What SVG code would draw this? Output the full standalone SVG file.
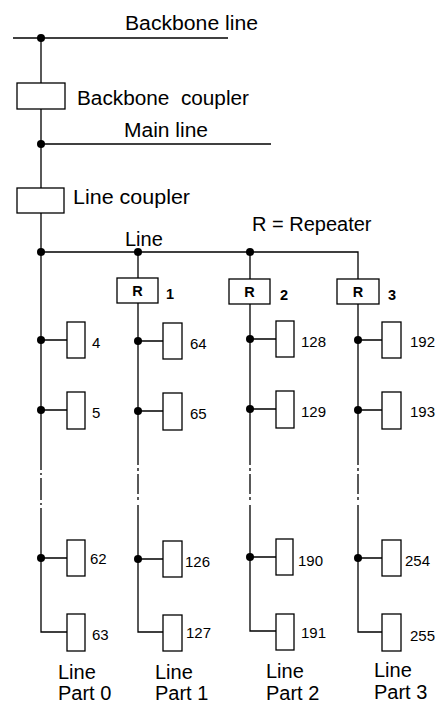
<svg xmlns="http://www.w3.org/2000/svg" width="437" height="704" viewBox="0 0 437 704">
<style>
.ln{fill:none;stroke:#000;stroke-width:1.3}
.bx{fill:#fff;stroke:#000;stroke-width:1.3}
.dt{fill:#000}
.lb{font-family:"Liberation Sans",Arial,sans-serif;font-size:20px;fill:#000}
.nm{font-family:"Liberation Sans",Arial,sans-serif;font-size:15px;fill:#000}
.rb{font-family:"Liberation Sans",Arial,sans-serif;font-size:14.5px;font-weight:bold;fill:#000}
</style>
<g id="connectors">
<path class="ln" d="M13 38H228"/>
<path class="ln" d="M41 144H271"/>
<path class="ln" d="M41 38V83M41 109V188M41 213V470M41 508V632H67"/>
<path class="ln" d="M41 470V508" stroke-dasharray="0 3 2 3 22 3 2 3"/>
<path class="ln" d="M41 252H358V279"/>
<path class="ln" d="M138 252V278M138 303V465M138 505V632H163"/>
<path class="ln" d="M138 465V505" stroke-dasharray="0 3 3 3 20 3 3 3"/>
<path class="ln" d="M250 252V279M250 304V465M250 505V631H276"/>
<path class="ln" d="M250 465V505" stroke-dasharray="0 3 3 3 20 3 3 3"/>
<path class="ln" d="M358 304V465M358 505V632H382"/>
<path class="ln" d="M358 465V505" stroke-dasharray="0 3 3 3 20 3 3 3"/>
<path class="ln" d="M41 340H67M41 410H67M41 558H67"/>
<path class="ln" d="M138 341H163M138 411H163M138 559H163"/>
<path class="ln" d="M250 339H276M250 409H276M250 557H276"/>
<path class="ln" d="M358 340H382M358 410H382M358 558H382"/>
<circle class="dt" cx="41" cy="38" r="4"/>
<circle class="dt" cx="41" cy="144" r="4"/>
<circle class="dt" cx="41" cy="252" r="4"/>
<circle class="dt" cx="138" cy="252" r="4"/>
<circle class="dt" cx="250" cy="252" r="4"/>
<circle class="dt" cx="41" cy="340" r="4"/>
<circle class="dt" cx="41" cy="410" r="4"/>
<circle class="dt" cx="41" cy="558" r="4"/>
<circle class="dt" cx="138" cy="341" r="4"/>
<circle class="dt" cx="138" cy="411" r="4"/>
<circle class="dt" cx="138" cy="559" r="4"/>
<circle class="dt" cx="250" cy="339" r="4"/>
<circle class="dt" cx="250" cy="409" r="4"/>
<circle class="dt" cx="250" cy="557" r="4"/>
<circle class="dt" cx="358" cy="340" r="4"/>
<circle class="dt" cx="358" cy="410" r="4"/>
<circle class="dt" cx="358" cy="558" r="4"/>
</g>
<g id="labels">
<text class="lb" x="125" y="30" textLength="133" lengthAdjust="spacingAndGlyphs">Backbone line</text>
<text class="lb" x="124" y="137" textLength="84" lengthAdjust="spacingAndGlyphs">Main line</text>
<text class="lb" x="252" y="231">R = Repeater</text>
<text class="lb" x="125" y="246">Line</text>
</g>
<g id="backbone-coupler">
<rect class="bx" x="17" y="83" width="48" height="26"/>
<text class="lb" x="77" y="105" xml:space="preserve" textLength="172" lengthAdjust="spacingAndGlyphs">Backbone  coupler</text>
</g>
<g id="line-coupler">
<rect class="bx" x="17" y="188" width="47" height="25"/>
<text class="lb" x="73" y="204" textLength="117" lengthAdjust="spacingAndGlyphs">Line coupler</text>
</g>
<g id="repeater-1">
<rect class="bx" x="117" y="278" width="41" height="25"/>
<text class="rb" x="137.5" y="296" text-anchor="middle">R</text>
<text class="rb" x="166" y="299">1</text>
</g>
<g id="repeater-2">
<rect class="bx" x="229" y="279" width="41" height="25"/>
<text class="rb" x="249.5" y="297" text-anchor="middle">R</text>
<text class="rb" x="280" y="300">2</text>
</g>
<g id="repeater-3">
<rect class="bx" x="337" y="279" width="42" height="25"/>
<text class="rb" x="358" y="297" text-anchor="middle">R</text>
<text class="rb" x="388" y="300">3</text>
</g>
<g id="dev-4"><rect class="bx" x="67" y="322" width="18" height="36"/><text class="nm" x="92" y="348">4</text></g>
<g id="dev-5"><rect class="bx" x="67" y="392" width="18" height="37"/><text class="nm" x="92" y="418">5</text></g>
<g id="dev-62"><rect class="bx" x="67" y="540" width="18" height="36"/><text class="nm" x="90" y="564">62</text></g>
<g id="dev-63"><rect class="bx" x="67" y="614" width="18" height="37"/><text class="nm" x="92" y="640">63</text></g>
<g id="dev-64"><rect class="bx" x="163" y="323" width="19" height="36"/><text class="nm" x="190" y="349">64</text></g>
<g id="dev-65"><rect class="bx" x="163" y="393" width="19" height="37"/><text class="nm" x="190" y="419">65</text></g>
<g id="dev-126"><rect class="bx" x="163" y="541" width="19" height="36"/><text class="nm" x="185" y="567">126</text></g>
<g id="dev-127"><rect class="bx" x="163" y="615" width="19" height="36"/><text class="nm" x="186" y="638">127</text></g>
<g id="dev-128"><rect class="bx" x="276" y="321" width="18" height="36"/><text class="nm" x="301" y="347">128</text></g>
<g id="dev-129"><rect class="bx" x="276" y="391" width="18" height="37"/><text class="nm" x="301" y="417">129</text></g>
<g id="dev-190"><rect class="bx" x="276" y="539" width="17" height="36"/><text class="nm" x="298" y="566">190</text></g>
<g id="dev-191"><rect class="bx" x="276" y="614" width="18" height="36"/><text class="nm" x="301" y="638">191</text></g>
<g id="dev-192"><rect class="bx" x="382" y="322" width="19" height="36"/><text class="nm" x="410" y="347">192</text></g>
<g id="dev-193"><rect class="bx" x="382" y="392" width="19" height="37"/><text class="nm" x="410" y="417">193</text></g>
<g id="dev-254"><rect class="bx" x="382" y="540" width="19" height="36"/><text class="nm" x="405" y="566">254</text></g>
<g id="dev-255"><rect class="bx" x="382" y="614" width="19" height="37"/><text class="nm" x="410" y="641">255</text></g>
<g id="part-0"><text class="lb" x="58" y="679">Line</text><text class="lb" x="58" y="700">Part 0</text></g>
<g id="part-1"><text class="lb" x="155" y="679">Line</text><text class="lb" x="155" y="700">Part 1</text></g>
<g id="part-2"><text class="lb" x="266" y="678">Line</text><text class="lb" x="266" y="700">Part 2</text></g>
<g id="part-3"><text class="lb" x="374" y="677">Line</text><text class="lb" x="374" y="699">Part 3</text></g>
</svg>
